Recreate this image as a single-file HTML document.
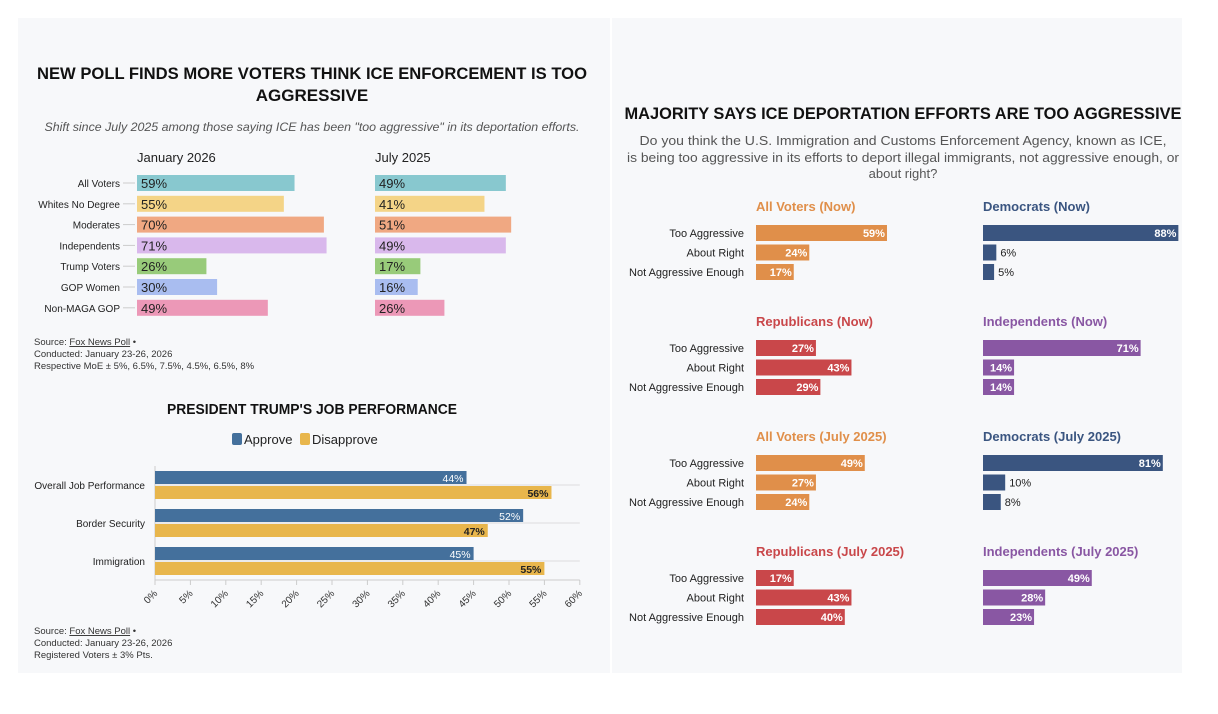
<!DOCTYPE html>
<html><head><meta charset="utf-8"><style>
body{margin:0;background:#fff;}
svg{display:block;font-family:"Liberation Sans",sans-serif;}
</style></head><body>
<svg id="s" width="1218" height="714">
<rect x="18" y="18" width="592" height="655" fill="#f7f8fa"/>
<rect x="612" y="18" width="570" height="655" fill="#f7f8fa"/>
<g fill="#111" font-weight="bold" font-size="17" text-anchor="middle">
<text x="312" y="79" textLength="550" lengthAdjust="spacingAndGlyphs">NEW POLL FINDS MORE VOTERS THINK ICE ENFORCEMENT IS TOO</text>
<text x="312" y="101">AGGRESSIVE</text>
<text x="312" y="414" font-size="14.5" textLength="290" lengthAdjust="spacingAndGlyphs">PRESIDENT TRUMP'S JOB PERFORMANCE</text>
<text x="903" y="119" textLength="557" lengthAdjust="spacingAndGlyphs">MAJORITY SAYS ICE DEPORTATION EFFORTS ARE TOO AGGRESSIVE</text>
</g>
<text x="312" y="131" font-size="12" font-style="italic" fill="#555" text-anchor="middle" textLength="535" lengthAdjust="spacingAndGlyphs">Shift since July 2025 among those saying ICE has been "too aggressive" in its deportation efforts.</text>
<g font-size="13" fill="#555" text-anchor="middle">
<text x="903" y="145" textLength="527" lengthAdjust="spacingAndGlyphs">Do you think the U.S. Immigration and Customs Enforcement Agency, known as ICE,</text>
<text x="903" y="162" textLength="552" lengthAdjust="spacingAndGlyphs">is being too aggressive in its efforts to deport illegal immigrants, not aggressive enough, or</text>
<text x="903" y="178">about right?</text>
</g>
<text x="137" y="162" font-size="13" fill="#222">January 2026</text>
<text x="375" y="162" font-size="13" fill="#222">July 2025</text>
<g font-size="9.5" fill="#333">
<text x="34" y="345">Source: <tspan text-decoration="underline">Fox News Poll</tspan> •</text>
<text x="34" y="357">Conducted: January 23-26, 2026</text>
<text x="34" y="369">Respective MoE ± 5%, 6.5%, 7.5%, 4.5%, 6.5%, 8%</text>
<text x="34" y="634">Source: <tspan text-decoration="underline">Fox News Poll</tspan> •</text>
<text x="34" y="646">Conducted: January 23-26, 2026</text>
<text x="34" y="658">Registered Voters ± 3% Pts.</text>
</g>
<g font-size="13" fill="#222">
<rect x="232" y="433" width="10" height="12" rx="2" fill="#44709c"/>
<text x="244" y="444">Approve</text>
<rect x="300" y="433" width="10" height="12" rx="2" fill="#e8b64c"/>
<text x="312" y="444">Disapprove</text>
</g>
<g id="c1"></g><g id="c2"></g><g id="c3"></g>
</svg>
<script>
const groups = ["All Voters","Whites No Degree","Moderates","Independents","Trump Voters","GOP Women","Non-MAGA GOP"];
const jan2026 = [59,55,70,71,26,30,49];
const jul2025 = [49,41,51,49,17,16,26];
const groupColors = ["#88c8cf","#f4d487","#f0a882","#d9b8ec","#98cb7a","#a9bdf0","#ec98b7"];

const jobCats = ["Overall Job Performance","Border Security","Immigration"];
const approve = [44,52,45];
const disapprove = [56,47,55];
const xTicks = [0,5,10,15,20,25,30,35,40,45,50,55,60];

const responses = ["Too Aggressive","About Right","Not Aggressive Enough"];
const panelTitles = ["All Voters (Now)","Democrats (Now)","Republicans (Now)","Independents (Now)","All Voters (July 2025)","Democrats (July 2025)","Republicans (July 2025)","Independents (July 2025)"];
const allNow = [59,24,17];
const demNow = [88,6,5];
const repNow = [27,43,29];
const indNow = [71,14,14];
const allJul = [49,27,24];
const demJul = [81,10,8];
const repJul = [17,43,40];
const indJul = [49,28,23];
const panelValues = [allNow,demNow,repNow,indNow,allJul,demJul,repJul,indJul];
const panelColors = ["#e08f4a","#3a5580","#c9474a","#8957a3"];

const NS="http://www.w3.org/2000/svg";
function mk(parent,tag,attrs,text){const e=document.createElementNS(NS,tag);for(const k in attrs)e.setAttribute(k,attrs[k]);if(text!==undefined)e.textContent=text;parent.appendChild(e);return e;}

// Chart 1
const c1=document.getElementById('c1');
const x1=v=>v*2.67, y1=i=>183+i*20.8;
groups.forEach((g,i)=>{
  let t=mk(c1,'text',{x:120,y:y1(i)+4,'font-size':10,fill:'#222','text-anchor':'end'},g);
  
  
  mk(c1,'line',{x1:123,x2:135,y1:y1(i),y2:y1(i),stroke:'#ccc'});
  [[137,jan2026],[375,jul2025]].forEach(([x0,arr],k)=>{
    let r=mk(c1,'rect',{x:x0,y:y1(i)-8,width:x1(arr[i]),height:16,fill:groupColors[i]});
    
    
    let l=mk(c1,'text',{x:x0+4,y:y1(i)+5,'font-size':13,fill:'#222'},arr[i]+'%');
    
    
  });
});

// Chart 2
const c2=document.getElementById('c2');
const X0=155, x2=v=>X0+v*7.08, yc=i=>485+i*38;
xTicks.forEach(v=>{
  mk(c2,'line',{x1:x2(v),x2:x2(v),y1:580,y2:585,stroke:'#ccc'});
  let t=mk(c2,'text',{x:x2(v)+3,y:594,'font-size':10,fill:'#333','text-anchor':'end',transform:`rotate(-45 ${x2(v)+3} 594)`},v+'%');
  
  
});
mk(c2,'line',{x1:X0,x2:x2(60),y1:580,y2:580,stroke:'#ccc'});
mk(c2,'line',{x1:X0,x2:X0,y1:466,y2:580,stroke:'#ccc'});
jobCats.forEach((c,i)=>{
  mk(c2,'line',{x1:X0,x2:x2(60),y1:yc(i),y2:yc(i),stroke:'#ddd'});
  let t=mk(c2,'text',{x:145,y:yc(i)+4,'font-size':10,fill:'#222','text-anchor':'end'},c);
  
  
  let a=mk(c2,'rect',{x:X0,y:yc(i)-14,width:x2(approve[i])-X0,height:13,fill:'#44709c'});
  
  
  let d=mk(c2,'rect',{x:X0,y:yc(i)+1,width:x2(disapprove[i])-X0,height:13,fill:'#e8b64c'});
  
  
  let la=mk(c2,'text',{x:x2(approve[i])-3,y:yc(i)-3,'font-size':10.5,fill:'#fff','text-anchor':'end'},approve[i]+'%');
  
  
  let ld=mk(c2,'text',{x:x2(disapprove[i])-3,y:yc(i)+12,'font-size':10.5,fill:'#222','font-weight':'bold','text-anchor':'end'},disapprove[i]+'%');
  
  
});

// Chart 3 panels
const c3=document.getElementById('c3');
panelValues.forEach((vals,p)=>{
  const col=p%2, row=Math.floor(p/2);
  const x0=col?983:756, ty=211+row*115, by=233+row*115;
  const color=panelColors[col? (row%2?3:1) : (row%2?2:0)];
  let t=mk(c3,'text',{x:x0,y:ty,'font-size':13,'font-weight':'bold',fill:color},panelTitles[p]);
  
  
  vals.forEach((v,i)=>{
    const y=by+i*19.5, w=v*2.22;
    if(!col){
      let l=mk(c3,'text',{x:744,y:y+4,'font-size':11,fill:'#222','text-anchor':'end'},responses[i]);
      
      
    }
    let r=mk(c3,'rect',{x:x0,y:y-8,width:w,height:16,fill:color});
    
    
    const inside=w>25;
    let vl=mk(c3,'text',{x:inside?x0+w-2:x0+w+4,y:y+4,'font-size':11,'font-weight':inside?'bold':'normal',fill:inside?'#fff':'#222','text-anchor':inside?'end':'start'},v+'%');
    
    
  });
});
</script>
</body></html>
